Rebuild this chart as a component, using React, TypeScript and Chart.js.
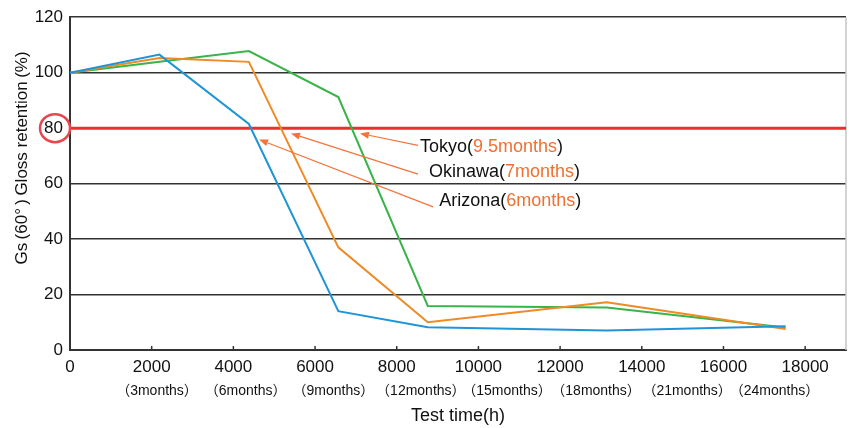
import { useEffect, useRef } from 'react';
import { Chart, registerables } from 'chart.js';
Chart.register(...registerables);

// ---- data ----
const hours = [0, 2190, 4380, 6570, 8760, 13140, 17520];
const arizona = [100, 106.5, 81.5, 14.0, 8.2, 7.0, 8.6];
const okinawa = [100, 105.3, 103.9, 37.0, 10.0, 17.2, 7.6];
const tokyo = [100, 103.9, 107.8, 91.2, 15.9, 15.3, 8.1];

const xTickValues = [0, 2000, 4000, 6000, 8000, 10000, 12000, 14000, 16000, 18000];
const monthTickHours = [2130, 4300, 6450, 8590, 10700, 12880, 15110, 17250];
const monthLabels = ['（3months）', '（6months）', '（9months）', '（12months）', '（15months）', '（18months）', '（21months）', '（24months）'];

const thresholdValue = 80;

const annotationNames = ['Tokyo', 'Okinawa', 'Arizona'];
const annotationPeriods = ['9.5months', '7months', '6months'];
// [textX, textY, tailX, tailY, tipX, tipY] in data coords (hours, %)
const annotationAnchors = [
  [8570, 73.1, 8520, 73.8, 7100, 78.1],
  [8790, 64.2, 8520, 63.4, 5411, 78.1],
  [9040, 53.7, 8890, 51.6, 4628, 75.9],
];

const FONT = '"Liberation Sans", "Noto Sans CJK JP", sans-serif';
const ORANGE_TXT = '#f07030';

const overlay = {
  id: 'overlay',
  beforeDatasetsDraw(chart: any) {
    const { ctx, chartArea, scales } = chart;
    const { left, right, top, bottom } = chartArea;
    const x = scales.x, y = scales.y;
    ctx.save();
    ctx.strokeStyle = '#c4c4c4';
    ctx.lineWidth = 1.5;
    ctx.beginPath(); ctx.moveTo(right, top); ctx.lineTo(right, bottom); ctx.stroke();
    ctx.strokeStyle = '#333';
    ctx.lineWidth = 1.5;
    xTickValues.forEach((v) => {
      if (v === 0) return;
      const px = x.getPixelForValue(v);
      ctx.beginPath(); ctx.moveTo(px, bottom); ctx.lineTo(px, bottom - 4); ctx.stroke();
    });
    const y80 = y.getPixelForValue(thresholdValue);
    ctx.strokeStyle = '#ee2e2e';
    ctx.lineWidth = 3;
    ctx.beginPath(); ctx.moveTo(left, y80); ctx.lineTo(right, y80); ctx.stroke();
    ctx.restore();
  },
  afterDatasetsDraw(chart: any) {
    const { ctx, chartArea, scales } = chart;
    const x = scales.x, y = scales.y;
    ctx.save();
    annotationAnchors.forEach((a, i) => {
      const tx = x.getPixelForValue(a[0]);
      const ty = y.getPixelForValue(a[1]);
      const sx = x.getPixelForValue(a[2]);
      const sy = y.getPixelForValue(a[3]);
      const ex = x.getPixelForValue(a[4]);
      const ey = y.getPixelForValue(a[5]);
      ctx.strokeStyle = '#f5733a';
      ctx.fillStyle = '#f5733a';
      ctx.lineWidth = 1.2;
      const ang = Math.atan2(ey - sy, ex - sx);
      const hl = 9, hw = 3.5;
      const bx = ex - hl * Math.cos(ang), by = ey - hl * Math.sin(ang);
      ctx.beginPath(); ctx.moveTo(sx, sy); ctx.lineTo(bx, by); ctx.stroke();
      ctx.beginPath();
      ctx.moveTo(ex, ey);
      ctx.lineTo(bx + hw * Math.sin(ang), by - hw * Math.cos(ang));
      ctx.lineTo(bx - hw * Math.sin(ang), by + hw * Math.cos(ang));
      ctx.closePath(); ctx.fill();

      ctx.font = `18px ${FONT}`;
      ctx.textBaseline = 'middle';
      ctx.textAlign = 'left';
      let cx = tx;
      const p1 = annotationNames[i] + '(';
      ctx.fillStyle = '#111';
      ctx.fillText(p1, cx, ty);
      cx += ctx.measureText(p1).width;
      ctx.fillStyle = ORANGE_TXT;
      ctx.fillText(annotationPeriods[i], cx, ty);
      cx += ctx.measureText(annotationPeriods[i]).width;
      ctx.fillStyle = '#111';
      ctx.fillText(')', cx, ty);
    });
    const y80 = y.getPixelForValue(thresholdValue);
    ctx.strokeStyle = '#e8474d';
    ctx.lineWidth = 2.5;
    ctx.beginPath();
    ctx.ellipse(chartArea.left - 15, y80, 15, 14, 0, 0, Math.PI * 2);
    ctx.stroke();
    ctx.translate(22, 158);
    ctx.rotate(-Math.PI / 2);
    ctx.font = `17px ${FONT}`;
    ctx.fillStyle = '#111';
    ctx.textAlign = 'center';
    ctx.textBaseline = 'middle';
    ctx.fillText('Gs\u2009(60°\u2009)\u2009Gloss retention\u2009(%)', 0, 0);
    ctx.restore();
  },
};

export default function App() {
  const ref = useRef<HTMLCanvasElement>(null);
  useEffect(() => {
    document.body.style.margin = '0';
    const mk = (label: string, data: number[], color: string) => ({
      label,
      data: hours.map((h, i) => ({ x: h, y: data[i] })),
      borderColor: color,
      backgroundColor: color,
      borderWidth: 2,
      pointRadius: 0,
      tension: 0,
    });
    const chart = new Chart(ref.current!, {
      type: 'line',
      data: {
        datasets: [
          mk('Arizona', arizona, '#1f95d6'),
          mk('Okinawa', okinawa, '#ef8a25'),
          mk('Tokyo', tokyo, '#38b449'),
        ],
      },
      options: {
        responsive: false,
        animation: false,
        layout: { padding: { left: 0, right: 3, top: 15, bottom: 1 } },
        plugins: { legend: { display: false }, tooltip: { enabled: false } },
        scales: {
          x: {
            type: 'linear',
            position: 'bottom',
            min: 0,
            max: 19000,
            afterBuildTicks: (s: any) => { s.ticks = xTickValues.map((v) => ({ value: v })); },
            afterFit: (s: any) => { s.height = 28; },
            grid: { display: false, drawTicks: false },
            border: { display: true, color: '#333', width: 2 },
            ticks: {
              autoSkip: false, maxRotation: 0, padding: 7, color: '#111',
              font: { family: FONT, size: 17 },
              callback: (v: any) => String(v),
            },
          },
          xm: {
            type: 'linear',
            position: 'bottom',
            min: 0,
            max: 19000,
            afterBuildTicks: (s: any) => { s.ticks = monthTickHours.map((v) => ({ value: v })); },
            afterFit: (s: any) => { s.height = 49; },
            grid: { display: false, drawTicks: false },
            border: { display: false },
            ticks: {
              autoSkip: false, maxRotation: 0, padding: 5, color: '#111',
              font: { family: FONT, size: 14 },
              callback: (_v: any, i: number) => monthLabels[i],
            },
            title: {
              display: true, text: 'Test time(h)', color: '#111', padding: 0,
              font: { family: FONT, size: 18 },
            },
          },
          y: {
            min: 0,
            max: 120,
            afterFit: (s: any) => { s.width = 70; },
            grid: { color: '#333', lineWidth: 1.5, drawTicks: false },
            border: { display: true, color: '#333', width: 2 },
            ticks: {
              stepSize: 20, padding: 7, color: '#111',
              font: { family: FONT, size: 17 },
            },
          },
        },
      },
      plugins: [overlay],
    } as any);
    return () => chart.destroy();
  }, []);
  return (
    <div style={{ width: 849, height: 428 }}>
      <canvas ref={ref} width={849} height={428} style={{ display: 'block' }} />
    </div>
  );
}
